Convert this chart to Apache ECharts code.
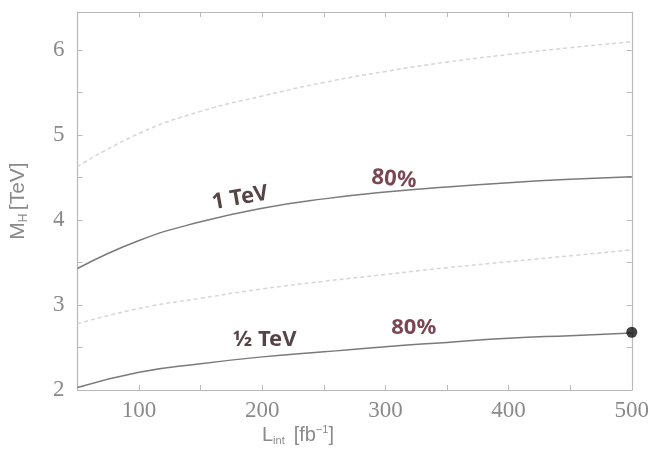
<!DOCTYPE html>
<html>
<head>
<meta charset="utf-8">
<script src="https://cdn.jsdelivr.net/npm/echarts@6/dist/echarts.min.js"></script>
<style>html,body{margin:0;padding:0;background:#fff;}#c{width:652px;height:459px;}</style>
</head>
<body>
<div id="c"></div>
<script>
var lumi = [50, 100, 150, 200, 250, 300, 350, 400, 450, 500];
var oneTeV80 = [3.43, 3.76, 3.98, 4.14, 4.25, 4.33, 4.39, 4.44, 4.48, 4.51];
var oneTeVUpper = [4.63, 5.02, 5.28, 5.46, 5.62, 5.75, 5.86, 5.95, 6.03, 6.10];
var halfTeVUpper = [2.78, 2.96, 3.08, 3.19, 3.28, 3.36, 3.44, 3.51, 3.58, 3.65];
var halfTeV80 = [2.03, 2.21, 2.31, 2.39, 2.45, 2.51, 2.56, 2.61, 2.64, 2.67];
var markerPoint = [[500, 2.68]];
var notes = [
  {x: 182, y: 4.26, text: '1 TeV', color: '#2a1418', rot: 10},
  {x: 307, y: 4.48, text: '80%', color: '#5a1828', rot: -5},
  {x: 202, y: 2.59, text: '½ TeV', color: '#2a1418', rot: 0},
  {x: 323, y: 2.73, text: '80%', color: '#5a1828', rot: 0}
];
var xTickLabels = [100, 200, 300, 400, 500];
var yTickLabels = [2, 3, 4, 5, 6];

function pairs(ys){ return lumi.map(function(x,i){ return [x, ys[i]]; }); }

var axisColor = '#b8b8b8';
var labelColor = '#8a8a8a';
var serif = 'Liberation Serif';

var chart = echarts.init(document.getElementById('c'));
var xBase = {
  type: 'value', min: 50, max: 500, interval: 50,
  axisLine: {show: true, lineStyle: {color: axisColor, width: 1.2}},
  axisTick: {show: true, inside: true, length: 5, lineStyle: {color: axisColor}},
  splitLine: {show: false}
};
var yBase = {
  type: 'value', min: 2, max: 6.45, interval: 0.5,
  axisLine: {show: true, lineStyle: {color: axisColor, width: 1.2}},
  axisTick: {show: true, inside: true, length: 5, lineStyle: {color: axisColor}},
  splitLine: {show: false}
};
chart.setOption({
  animation: false,
  backgroundColor: '#ffffff',
  grid: {left: 74, right: 20, top: 12, bottom: 69},
  xAxis: [
    Object.assign({}, xBase, {
      position: 'bottom',
      axisLabel: {color: labelColor, fontFamily: serif, fontSize: 23, margin: 9,
        formatter: function(v){ return xTickLabels.indexOf(v) >= 0 ? String(v) : ''; }}
    }),
    Object.assign({}, xBase, {position: 'top', axisLabel: {show: false}})
  ],
  yAxis: [
    Object.assign({}, yBase, {
      position: 'left',
      name: '{m|M}{s|H} {m|[TeV]}',
      nameLocation: 'middle', nameGap: 48, nameRotate: 90,
      nameTextStyle: {rich: {
        m: {color: labelColor, fontFamily: 'Liberation Sans', fontSize: 21},
        s: {color: labelColor, fontFamily: 'Liberation Sans', fontSize: 12, verticalAlign: 'bottom', padding: [10,0,0,0]}
      }},
      axisLabel: {color: labelColor, fontFamily: serif, fontSize: 23, margin: 13,
        formatter: function(v){ return yTickLabels.indexOf(v) >= 0 ? String(v) : ''; }}
    }),
    Object.assign({}, yBase, {position: 'right', axisLabel: {show: false}})
  ],
  graphic: [{
    type: 'text', left: 262, top: 424,
    style: {
      rich: {
        m: {fill: labelColor, fontFamily: 'Liberation Sans', fontSize: 20},
        s: {fill: labelColor, fontFamily: 'Liberation Sans', fontSize: 11, padding: [10,0,0,0]},
        p: {fill: labelColor, fontFamily: 'Liberation Sans', fontSize: 11, padding: [0,0,12,0]}
      },
      text: '{m|L}{s|int} {m| [fb}{p|−1}{m|]}'
    }
  }],
  series: [
    {type: 'line', data: pairs(oneTeVUpper), smooth: true, showSymbol: false,
      lineStyle: {color: '#d6d6d6', width: 1.5, type: [4, 3]}},
    {type: 'line', data: pairs(halfTeVUpper), smooth: true, showSymbol: false,
      lineStyle: {color: '#d6d6d6', width: 1.5, type: [4, 3]}},
    {type: 'line', data: pairs(oneTeV80), smooth: true, showSymbol: false,
      lineStyle: {color: '#7a7a7a', width: 1.5}},
    {type: 'line', data: pairs(halfTeV80), smooth: true, showSymbol: false,
      lineStyle: {color: '#7a7a7a', width: 1.5}},
    {type: 'scatter', data: markerPoint, symbolSize: 11,
      itemStyle: {color: '#111'}, z: 5},
    {type: 'scatter', symbolSize: 0, z: 6,
      data: notes.map(function(n){
        return {value: [n.x, n.y], label: {show: true, position: 'inside', formatter: n.text,
          color: n.color, fontFamily: 'Noto Sans', fontWeight: 'bold', fontSize: 22, rotate: n.rot}};
      })}
  ]
});
</script>
</body>
</html>
